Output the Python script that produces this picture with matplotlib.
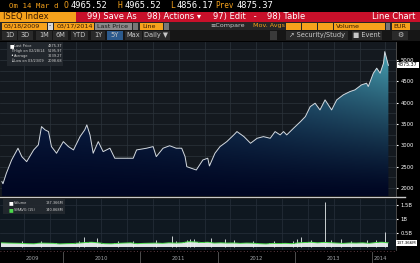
import numpy as np
import pandas as pd
import matplotlib
matplotlib.use("Agg")
import matplotlib.pyplot as plt
import matplotlib.dates as mdates
from matplotlib.patches import Rectangle

# ISEQ Index closes
price_dates = ["2009-03-18", "2009-03-23", "2009-04-08", "2009-05-03", "2009-06-02", "2009-06-20",
               "2009-07-13", "2009-08-15", "2009-09-06", "2009-09-21", "2009-10-08", "2009-10-24",
               "2009-11-07", "2009-12-01", "2010-01-02", "2010-01-26", "2010-02-19", "2010-03-22",
               "2010-04-13", "2010-04-23", "2010-05-08", "2010-05-23", "2010-06-16", "2010-07-09",
               "2010-08-10", "2010-09-02", "2010-10-12", "2010-11-28", "2010-12-14", "2011-01-30",
               "2011-03-02", "2011-03-17", "2011-04-18", "2011-05-19", "2011-06-19", "2011-07-15",
               "2011-07-31", "2011-08-08", "2011-08-30", "2011-09-22", "2011-10-23", "2011-11-15",
               "2011-11-23", "2011-12-19", "2012-01-12", "2012-02-13", "2012-03-17", "2012-04-01",
               "2012-05-04", "2012-06-04", "2012-07-05", "2012-08-04", "2012-09-05", "2012-09-28",
               "2012-10-22", "2012-11-07", "2012-11-22", "2012-12-24", "2013-01-26", "2013-02-18",
               "2013-03-13", "2013-04-05", "2013-04-28", "2013-05-22", "2013-06-22", "2013-07-16",
               "2013-08-16", "2013-09-17", "2013-10-10", "2013-11-10", "2013-12-04", "2013-12-12",
               "2014-01-05", "2014-01-21", "2014-02-06", "2014-02-22", "2014-02-28", "2014-03-17"]
price = [2150, 2099, 2345, 2657, 2932, 2735, 2617, 2892, 3009, 3439, 3361, 3322, 2970, 2814,
         3087, 2970, 2892, 3204, 3361, 3479, 3244, 2814, 3087, 2852, 2932, 2697, 2697, 2697, 2892,
         2932, 2970, 2735, 2932, 2990, 2932, 2932, 2735, 2500, 2461, 2422, 2657, 2697, 2516, 2814,
         2970, 3087, 3244, 3322, 3204, 3048, 3165, 3204, 3165, 3322, 3244, 3322, 3244, 3400,
         3556, 3674, 3908, 3987, 3830, 4065, 3830, 4065, 4183, 4261, 4300, 4417, 4456, 4378,
         4691, 4808, 4691, 4925, 5196, 4875]

# volume in millions: monthly level + single-day spikes
vol_months = pd.date_range("2009-03-01", periods=61, freq="MS")
vol_base = [150, 140, 135, 130, 120, 115, 140, 135, 130, 110,
            120, 125, 140, 160, 170, 150, 120, 115, 130, 140, 150, 120,
            130, 135, 140, 130, 150, 140, 150, 190, 180, 160, 170, 140,
            150, 140, 145, 130, 140, 135, 120, 110, 130, 125, 130, 120,
            150, 160, 170, 150, 165, 155, 140, 130, 145, 140, 150, 130,
            160, 170, 150]
spike_dates = ["2009-06-19", "2009-09-18", "2010-03-19", "2010-04-12", "2010-06-10", "2010-09-17",
               "2010-11-26", "2011-03-18", "2011-05-28", "2011-06-17", "2011-08-10", "2011-08-22",
               "2011-09-12", "2011-12-02", "2012-02-05", "2012-03-16", "2012-06-15", "2012-09-21",
               "2012-12-21", "2013-01-08", "2013-01-30", "2013-03-15", "2013-05-24", "2013-06-21",
               "2013-08-05", "2013-09-20", "2013-12-04", "2014-01-17", "2014-03-03"]
spike_vol = [200, 210, 230, 370, 330, 200, 225, 260, 390, 220, 250, 300, 280, 330, 300, 240,
             210, 220, 230, 300, 350, 260, 1620, 240, 300, 230, 250, 260, 550]

price_ticks = [2000, 2500, 3000, 3500, 4000, 4500, 5000]
vol_ticks = [500, 1000, 1500]
vol_tick_labels = ["0.5B", "1B", "1.5B"]
year_labels = ["2009", "2010", "2011", "2012", "2013", "2014"]
year_label_pos = ["2009-08-10", "2010-07-01", "2011-07-01", "2012-07-01", "2013-07-01", "2014-02-08"]

W, H = 420, 263
fig = plt.figure(figsize=(W / 100, H / 100), dpi=100, facecolor="black")


def box(x, y, w, h, color, **kw):
    fig.add_artist(Rectangle((x / W, 1 - (y + h) / H), w / W, h / H, transform=fig.transFigure,
                             facecolor=color, edgecolor="none", **kw))


def txt(x, y, s, color="white", size=5, ha="left", **kw):
    fig.text(x / W, 1 - y / H, s, color=color, fontsize=size, ha=ha, va="center", **kw)


orange = "#f6a21c"
# ---- header rows ----
mono = "DejaVu Sans Mono"
txt(9, 5.5, "Om 14 Mar d", orange, 5.3, family=mono)
txt(64, 5.5, "O", orange, 5.8, family=mono)
txt(71, 5.5, "4965.52", "white", 6.3, family=mono)
txt(118, 5.5, "H", orange, 5.8, family=mono)
txt(125, 5.5, "4965.52", "white", 6.3, family=mono)
txt(170, 5.5, "L", orange, 5.8, family=mono)
txt(177, 5.5, "4856.17", "white", 6.3, family=mono)
txt(215, 5.5, "Prev", orange, 5.5, family=mono)
txt(237, 5.5, "4875.37", "white", 6.3, family=mono)

box(0, 12, W, 9.5, "#c8102a")
box(0, 12, 76, 9.5, orange)
txt(3, 16.8, "ISEQ Index", "#3a1a00", 6)
txt(87, 16.8, "99) Save As", "white", 6)
txt(147, 16.8, "98) Actions \u25be", "white", 6)
txt(213, 16.8, "97) Edit   -", "white", 6)
txt(267, 16.8, "98) Table", "white", 6)
txt(372, 16.8, "Line Chart", "white", 6)

box(0, 21.5, W, 8.5, "#262626")
box(2, 22.5, 45, 7, orange)
txt(4, 26, "03/18/2009", "#3a1a00", 4.6)
box(48, 22.5, 5, 7, "#d8d8d8")
txt(49, 26, "-", "#222222", 4.6)
box(54, 22.5, 40, 7, orange)
txt(57, 26, "03/17/2014", "#3a1a00", 4.6)
box(95, 22.5, 37, 7, "#8a8a8a")
txt(97, 26, "Last Price", "#1a1a1a", 4.6)
box(133, 22.5, 5, 7, "#777777")
box(140, 22.5, 23, 7, orange)
txt(142, 26, "Line", "#3a1a00", 4.6)
box(164, 22.5, 5, 7, "#777777")
txt(210, 26, "\u2261Compare", "#c8c8c8", 4.6)
txt(253, 26, "Mov. Avgs", orange, 4.6)
for bx in [286, 302, 318]:
    box(bx, 22.5, 15, 7, orange)
box(334, 22.5, 51, 7, orange)
txt(336, 26, "Volume", "#3a1a00", 4.6)
box(386, 22.5, 4, 7, "#777777")
box(392, 22.5, 18, 7, orange)
txt(393, 26, "EUR", "#3a1a00", 4.6)

box(0, 30, W, 10.5, "#161616")
buttons = [("1D", 2, 15), ("3D", 18, 15), ("1M", 36, 16), ("6M", 53, 15), ("YTD", 71, 17),
           ("1Y", 91, 14), ("5Y", 107, 16), ("Max", 125, 17), ("Daily \u25bc", 143, 27)]
for label, bx, bw in buttons:
    box(bx, 31, bw, 8.5, "#2c5a8c" if label == "5Y" else "#2a2a2a")
    txt(bx + bw / 2, 35.3, label, "#c8c8c8", 4.8, ha="center")
box(270, 31, 7, 8.5, "#3a3a3a")
box(286, 31, 62, 8.5, "#2a2a2a")
txt(317, 35.3, "\u2197 Security/Study", "#c8c8c8", 4.8, ha="center")
box(352, 31, 30, 8.5, "#2a2a2a")
txt(367, 35.3, "\u25a0 Event", "#c8c8c8", 4.8, ha="center")
box(392, 31, 16, 8.5, "#2a2a2a")
txt(400, 35.3, "\u2699", "#c8c8c8", 5, ha="center")

# ---- price panel ----
x0 = mdates.date2num(pd.Timestamp("2009-03-09"))
x1 = mdates.date2num(pd.Timestamp("2014-04-22"))
px = mdates.date2num(pd.to_datetime(price_dates))
ymin, ymax = 1812, 5422

ax = fig.add_axes([0, 1 - 196 / H, 396 / W, 154 / H])
ax.set_facecolor("#14191f")
ax.set_xlim(x0, x1)
ax.set_ylim(ymin, ymax)

# gradient fill under the line
ny, nx = 120, 240
t = np.linspace(0, 1, ny)[:, None]
s = np.linspace(0, 1, nx)[None, :]
bottom = np.array([0, 6, 34]) / 255
left_top = np.array([22, 58, 105]) / 255
right_top = np.array([80, 180, 195]) / 255
s3 = s[..., None] ** 1.8
top = left_top + (right_top - left_top) * s3
img = bottom + (top - bottom) * t[..., None] ** 1.3
poly = ax.fill_between(px, price, ymin, facecolor="none", edgecolor="none")
im = ax.imshow(img, origin="lower", extent=[x0, x1, ymin, ymax], aspect="auto", zorder=1)
im.set_clip_path(poly.get_paths()[0], transform=ax.transData)
ax.plot(px, price, color="#d4dae0", lw=0.7, zorder=3)

ax.xaxis.set_major_locator(mdates.MonthLocator(bymonth=(3, 7, 11)))
ax.set_yticks(np.arange(2000, 5500, 250), minor=True)
ax.grid(True, which="both", color="#2c333b", lw=0.5)
ax.set_axisbelow(True)
ax.set_yticks(price_ticks)
ax.yaxis.tick_right()
ax.tick_params(axis="y", which="major", colors="white", labelsize=3.8, length=1.5, pad=2)
ax.tick_params(axis="y", which="minor", length=0)
ax.tick_params(axis="x", length=0, labelbottom=False)
for sp in ["top", "bottom", "left"]:
    ax.spines[sp].set_visible(False)
ax.spines["right"].set_color("#555555")
ax.spines["right"].set_linewidth(0.6)

# legend
box(7, 42, 56, 24, "#24292f", alpha=0.9)
leg = [("\u25a0", "Last Price", "4875.37", 46), ("\u2191", "High on 02/28/14", "5195.97", 51),
       ("\u2022", "Average", "3239.27", 56), ("\u2193", "Low on 03/23/09", "2098.68", 61)]
for icon, name, val, yy in leg:
    txt(10, yy, icon, "white", 3.4)
    txt(14, yy, name, "#d0d0d0", 2.5)
    txt(62, yy, val, "#d0d0d0", 2.5, ha="right")
txt(398, 65, "4875.37", "black", 3.4,
    bbox=dict(boxstyle="square,pad=0.2", fc="white", ec="none"))

# separator between panels
fig.add_artist(plt.Line2D([0, 405 / W], [1 - 197 / H, 1 - 197 / H], color="#c8c8c8", lw=1,
                          transform=fig.transFigure))

# ---- volume panel ----
av = fig.add_axes([0, 1 - 250 / H, 396 / W, 51 / H])
av.set_facecolor("#0f1820")
av.set_xlim(x0, x1)
av.set_ylim(-107, 1714)
vx = mdates.date2num(vol_months + pd.Timedelta(days=15))
av.fill_between(vx, vol_base, 0, step="mid", color="#dfe6e6", lw=0, zorder=2)
av.vlines(mdates.date2num(pd.to_datetime(spike_dates)), 0, spike_vol, color="#e8eeee", lw=0.6, zorder=2)
av.plot(vx, vol_base, color="#4cd84c", lw=0.7, zorder=3)
av.xaxis.set_major_locator(mdates.MonthLocator(bymonth=(3, 7, 11)))
av.set_yticks(vol_ticks)
av.set_yticklabels(vol_tick_labels)
av.grid(True, color="#26303a", lw=0.5)
av.set_axisbelow(True)
av.yaxis.tick_right()
av.tick_params(axis="y", colors="white", labelsize=3.8, length=1.5, pad=2)
av.tick_params(axis="x", length=0, labelbottom=False)
for sp in ["top", "bottom", "left"]:
    av.spines[sp].set_visible(False)
av.spines["right"].set_color("#555555")
av.spines["right"].set_linewidth(0.6)

box(3, 199, 62, 15, "#24292f", alpha=0.9)
txt(9, 203, "\u25a0", "white", 3.6)
txt(14, 203, "Volume", "#d0d0d0", 2.5)
txt(63, 203, "137.366M", "#d0d0d0", 2.5, ha="right")
txt(9, 210, "\u25a0", "#4cd84c", 3.6)
txt(14, 210, "SMAVG (15)", "#d0d0d0", 2.5)
txt(63, 210, "140.868M", "#d0d0d0", 2.5, ha="right")
txt(397, 243, "137.366M", "black", 2.9,
    bbox=dict(boxstyle="square,pad=0.2", fc="white", ec="none"))

# ---- year axis ----
fig.add_artist(plt.Line2D([0, 396 / W], [1 - 251 / H, 1 - 251 / H], color="#7a4a55", lw=0.6,
                          ls=(0, (1, 3)), transform=fig.transFigure))
trans = matplotlib.transforms.blended_transform_factory(av.transData, fig.transFigure)
for yr in range(2010, 2015):
    xx = mdates.date2num(pd.Timestamp(f"{yr}-01-01"))
    fig.add_artist(plt.Line2D([xx, xx], [0, 1 - 252 / H], color="#5a5a5a", lw=0.6, transform=trans))
for lab, pos in zip(year_labels, year_label_pos):
    fig.text(mdates.date2num(pd.Timestamp(pos)), 1 - 258 / H, lab, color="#a0a4a8", fontsize=3.8,
             ha="center", va="center", transform=trans)

fig.savefig("out.png", dpi=100, facecolor="black")
